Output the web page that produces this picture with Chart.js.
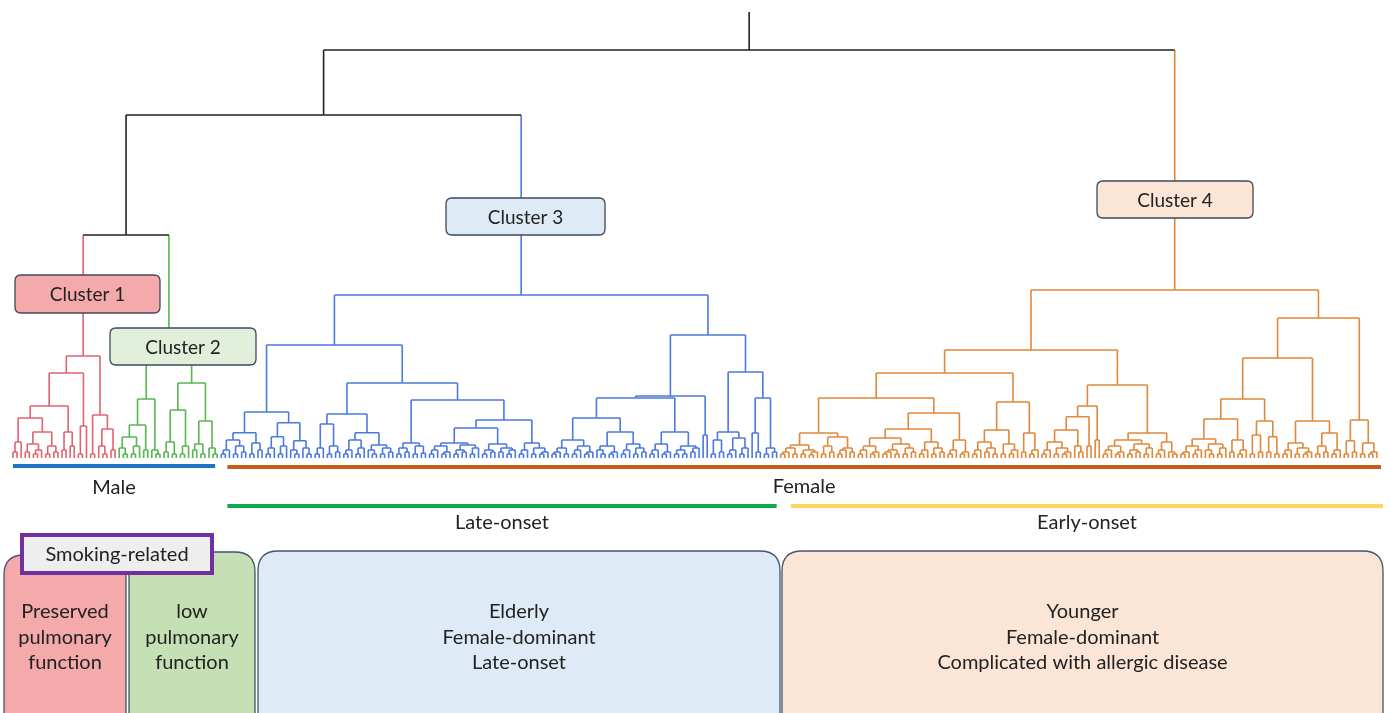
<!DOCTYPE html>
<html>
<head>
<meta charset="utf-8">
<script src="https://cdn.jsdelivr.net/npm/chart.js@4.4.1/dist/chart.umd.min.js"></script>
<style>
  html, body { margin: 0; padding: 0; background: #fff; }
  #wrap { width: 1390px; height: 713px; }
</style>
</head>
<body>
<div id="wrap"><canvas id="dendrogram" width="1390" height="713"></canvas></div>
<script>
// Tree notation: o = one patient (leaf), (a,b)h = merge of a and b at linkage height h
const cluster1Tree = `(
  (
    (
      (((o,o)1.5,o)4, (((o,o)1.5,((o,o)1,o)2)3.5, ((o,o)1,(o,o)1.5)3)6.5)10,
      ((o,o)2,(o,o)3)6.5
    )13,
    ((o,o)1,o)8
  )21.25,
  ((o,o)1, ((o,(o,o)1)3,(o,o)2)7.25)10.75
)25.5`;

const cluster2Tree = `(
  (
    (((o,(o,o)1)2.5, ((o,o)1,o)3)5.25, (o,o)2)8.25,
    (o,(o,o)1)2
  )14.75,
  (
    (((o,o)1.5,(o,o)1)4, ((o,o)1,o)3)12,
    (((o,o)2,(o,o)1)3.5, (o,(o,o)1)2.5)9.25
  )18.75
)26.5`;

const cluster3Tree = `(
  (
    (
      ((((o,o)1,o)2,((o,o)1,(o,o)1.5)3)4.5, ((o,o)1,(o,o)2)3.75)6.3,
      ((((o,o)1,o)2.5,((o,o)1,o)3)5.3, ((o,(o,o)1)2,(o,(o,o)1)2.5)4.3)8.8
    )11.5,
    (
      (
        (((o,o)1,o)2.5,((o,o)1,(o,o)1.5)3)8.5,
        ((((o,o)1,o)2,((o,o)1,o)2.5)4.5, ((o,(o,o)1)2,((o,o)1,(o,o)1.5)2.5)3.25)6.3
      )11,
      (
        (((o,o)1,(o,o)1.5)2.5,((o,o)1,(o,o)1.2)3)3.75,
        (
          (
            ((((o,o)1,o)2,((o,o)1,o)1.5)3,(((o,o)1,(o,o)1.5)2,((o,o)1,o)2.5)3.25)3.75,
            (((o,o)1,(o,o)1.5)2,((o,o)1.5,((o,o)1,o)2)2.5)3.5
          )7.5,
          (((o,o)1,o)2,((o,o)1,((o,o)1,o)1.5)2.5)3.75
        )9.5
      )14.5
    )18.75
  )28.25,
  (
    (
      (
        (
          ((((o,o)1,o)1.5,(o,o)1)2.5,(((o,o)1,o)2,((o,o)1,o)1.5)3)4.5,
          (((o,(o,o)1)2,((o,o)1,o)1.5)3,(((o,o)1,o)2,((o,o)1,(o,o)1.5)2.5)3.5)6.5
        )10,
        ((((o,o)1,o)2,((o,o)1,o)1.5)3.5,(((o,o)1,(o,o)1)2,((o,o)1.5,o)2.5)3)6.5
      )15,
      (o,o)5.75
    )15.5,
    (
      (((o,o)1,(o,o)1.5)4.5, (((o,o)1,o)2,((o,o)1,o)2.5)5)6.5,
      ((o,(o,o)1.5)6.25, ((o,o)1,(o,o)1.5)2.5)15
    )21.5
  )30.75
)40.75`;

const cluster4Tree = `(
  (
    (
      (
        (((((o,o)1,o)1.5,(o,o)1)2.5, ((o,o)1,((o,o)0.8,o)1.5)2)3.25,
         (((o,o)1,(o,o)1.5)3, (((o,o)1,o)2,(o,o)1.5)2.5)5.25)6.25,
        (
          (((((o,o)1,o)2,((o,o)1,o)1.5)3, ((((o,o)1,o)1.5,(o,o)1)2,((o,o)1,(o,o)1.5)2.5)3.5)5,
           (((o,o)1,o)2,((o,o)1,(o,o)1.5)2.5)4)7.25,
          (((o,o)1,o)2,((o,o)1,o)1.5)4.5
        )11.25
      )15,
      (
        ((((o,o)1,o)2,((o,o)1.5,(o,o)1)2.5)4, ((o,o)1,((o,o)1,o)2)3.5)7,
        ((o,o)1.5,((o,o)1,o)2)6.25
      )14
    )21.25,
    (
      (
        (
          ((((o,o)1,o)2,((o,o)1,((o,o)1,o)1.5)2.5)4, (o,(o,o)1.5)3)7,
          (o,o)3
        )10.3,
        (o,o)4.5
      )13,
      (
        ((((o,o)1,o)2,((o,o)1,o)1.5)3, (((o,o)1,(o,o)1.5)2,((o,o)1,o)2.5)3.5)4.5,
        (((o,o)1,o)2,(o,(o,o)1)1.5)4
      )6.25
    )18.25
  )27,
  (
    (
      (
        (
          ((((o,o)1,o)1.5,((o,o)1,o)2)3, ((o,(o,o)1)2,((o,o)1,o)2.5)3.5)4.75,
          ((o,o)1.5,((o,o)1,o)2)4.5
        )9.75,
        (((o,o)1,(o,o)1.5)5.75, ((o,o)1.5,(o,o)1)5.3)9.25
      )14.75,
      ((((o,o)1,o)2,((o,o)1,((o,o)1,o)1.5)2.5)3.75, (((o,o)1,(o,o)1.5)3,((o,o)1,o)2)6.25)9.25
    )25,
    (((o,o)1,(o,o)1.5)4.3, ((o,o)1,((o,o)1,o)1.5)3.75)9.5
  )35
)42`;

const clusterTrees = [cluster1Tree, cluster2Tree, cluster3Tree, cluster4Tree];
const clusterNames = ['Cluster 1', 'Cluster 2', 'Cluster 3', 'Cluster 4'];
const clusterColors = ['#e0646f', '#56b64f', '#4b79e0', '#e08838'];

// heights of the merges above the clusters: (1,2), (1+2,3), (all)
const upperHeights = [55.75, 85.75, 102];
const rootStemTop = 111.5;

// leaf-index spans of the patient groups under the tree
const groupLabels = ['Male', 'Female', 'Late-onset', 'Early-onset'];
const groupFrom = [0, 52.5, 52.5, 190.5];
const groupTo = [49.5, 335, 187, 335.5];

const profileLines = [
  ['Preserved', 'pulmonary', 'function'],
  ['low', 'pulmonary', 'function'],
  ['Elderly', 'Female-dominant', 'Late-onset'],
  ['Younger', 'Female-dominant', 'Complicated with allergic disease']
];
const smokingLabel = 'Smoking-related';

// ---- build the tree
function parseTree(text) {
  const s = text.replace(/\s+/g, '');
  let pos = 0;
  function node() {
    if (s[pos] === 'o') { pos++; return { leaf: true, h: 0 }; }
    if (s[pos] !== '(') throw new Error('tree syntax at ' + pos);
    pos++;
    const a = node();
    if (s[pos] !== ',') throw new Error('tree syntax at ' + pos);
    pos++;
    const b = node();
    if (s[pos] !== ')') throw new Error('tree syntax at ' + pos);
    pos++;
    const m = /^[0-9.]+/.exec(s.slice(pos));
    pos += m[0].length;
    return { children: [a, b], h: parseFloat(m[0]) };
  }
  return node();
}

let leafCount = 0;
function layout(n, color) {
  n.color = color;
  if (n.leaf) { n.x = leafCount++; return; }
  n.children.forEach(c => layout(c, color));
  n.x = (n.children[0].x + n.children[1].x) / 2;
}

const roots = clusterTrees.map((t, i) => {
  const r = parseTree(t);
  layout(r, clusterColors[i]);
  return r;
});

const LINK_BLACK = '#222222';
function join(a, b, h) {
  return { children: [a, b], h: h, color: LINK_BLACK, x: (a.x + b.x) / 2 };
}
const top12 = join(roots[0], roots[1], upperHeights[0]);
const top123 = join(top12, roots[2], upperHeights[1]);
const treeRoot = join(top123, roots[3], upperHeights[2]);

const segsByColor = {};
function addSeg(color, x1, y1, x2, y2) {
  if (!segsByColor[color]) segsByColor[color] = [];
  segsByColor[color].push({ x: x1, y: y1 }, { x: x2, y: y2 }, { x: x2, y: null });
}
function collect(n) {
  if (n.leaf) return;
  const [a, b] = n.children;
  addSeg(a.color, a.x, a.h, a.x, n.h);
  addSeg(n.color, a.x, n.h, b.x, n.h);
  addSeg(b.color, b.x, n.h, b.x, b.h);
  collect(a);
  collect(b);
}
collect(treeRoot);
addSeg(LINK_BLACK, treeRoot.x, treeRoot.h, treeRoot.x, rootStemTop);

const datasets = Object.keys(segsByColor).map(color => ({
  data: segsByColor[color],
  showLine: true,
  spanGaps: false,
  borderColor: color,
  borderWidth: 1.6,
  pointRadius: 0,
  pointHoverRadius: 0,
  tension: 0
}));

// ---- annotation drawing
function roundRect(ctx, x, y, w, h, r) {
  ctx.beginPath();
  ctx.moveTo(x + r, y);
  ctx.lineTo(x + w - r, y);
  ctx.quadraticCurveTo(x + w, y, x + w, y + r);
  ctx.lineTo(x + w, y + h - r);
  ctx.quadraticCurveTo(x + w, y + h, x + w - r, y + h);
  ctx.lineTo(x + r, y + h);
  ctx.quadraticCurveTo(x, y + h, x, y + h - r);
  ctx.lineTo(x, y + r);
  ctx.quadraticCurveTo(x, y, x + r, y);
  ctx.closePath();
}

const FONT = 'Lato, "Open Sans", sans-serif';
const clusterBoxes = [
  { x: 15, y: 275, w: 145, h: 38, fill: '#f4a9ab' },
  { x: 110, y: 328, w: 146, h: 37, fill: '#e2efda' },
  { x: 446, y: 198, w: 159, h: 37, fill: '#deebf7' },
  { x: 1097, y: 181, w: 156, h: 37, fill: '#fbe5d6' }
];
const groupStyle = [
  { color: '#1c74c4', bar: 466, text: 488 },
  { color: '#c65b1c', bar: 467, text: 487 },
  { color: '#10a84e', bar: 506, text: 523 },
  { color: '#fdd660', bar: 506, text: 523 }
];
const profileBoxes = [
  { x: 4, y: 555, w: 122, fill: '#f4a9ab' },
  { x: 129, y: 552, w: 126, fill: '#c5e0b4' },
  { x: 258, y: 551, w: 522, fill: '#deebf7' },
  { x: 782, y: 551, w: 601, fill: '#fbe5d6' }
];

const annotations = {
  id: 'annotations',
  afterDraw(chart) {
    const ctx = chart.ctx;
    const xs = chart.scales.x;
    ctx.save();
    ctx.textAlign = 'center';
    ctx.textBaseline = 'middle';

    // cluster labels
    clusterBoxes.forEach((b, i) => {
      roundRect(ctx, b.x, b.y, b.w, b.h, 6);
      ctx.fillStyle = b.fill;
      ctx.fill();
      ctx.lineWidth = 1.3;
      ctx.strokeStyle = '#3e4a5c';
      ctx.stroke();
      ctx.fillStyle = '#222';
      ctx.font = '19px ' + FONT;
      ctx.fillText(clusterNames[i], b.x + b.w / 2, b.y + b.h / 2 + 1);
    });

    // group bars
    groupLabels.forEach((label, i) => {
      const x1 = xs.getPixelForValue(groupFrom[i]);
      const x2 = xs.getPixelForValue(groupTo[i]);
      const st = groupStyle[i];
      ctx.strokeStyle = st.color;
      ctx.lineWidth = 4;
      ctx.beginPath();
      ctx.moveTo(x1, st.bar);
      ctx.lineTo(x2, st.bar);
      ctx.stroke();
      ctx.fillStyle = '#222';
      ctx.font = '20px ' + FONT;
      ctx.fillText(label, (x1 + x2) / 2, st.text);
    });

    // profile boxes
    profileBoxes.forEach((b, i) => {
      roundRect(ctx, b.x, b.y, b.w, 220, 20);
      ctx.fillStyle = b.fill;
      ctx.fill();
      ctx.lineWidth = 1.3;
      ctx.strokeStyle = '#44546a';
      ctx.stroke();
      ctx.fillStyle = '#222';
      ctx.font = '20px ' + FONT;
      profileLines[i].forEach((line, k) => {
        ctx.fillText(line, b.x + b.w / 2, 612 + k * 25.5);
      });
    });

    // smoking-related tag
    ctx.fillStyle = '#eeeeee';
    ctx.fillRect(22, 535, 190, 38);
    ctx.lineWidth = 4;
    ctx.strokeStyle = '#7030a0';
    ctx.strokeRect(22, 535, 190, 38);
    ctx.fillStyle = '#222';
    ctx.font = '20px ' + FONT;
    ctx.fillText(smokingLabel, 117, 555);

    ctx.restore();
  }
};

// leaf i sits at 13 + 4.084*i px; height d sits at 458 - 4*d px
new Chart(document.getElementById('dendrogram'), {
  type: 'scatter',
  data: { datasets: datasets },
  options: {
    responsive: false,
    animation: false,
    devicePixelRatio: 1,
    layout: { padding: 0 },
    events: [],
    plugins: { legend: { display: false }, tooltip: { enabled: false } },
    scales: {
      x: { type: 'linear', min: -3.18, max: 337.2, display: false },
      y: { type: 'linear', min: -63.75, max: 114.5, display: false }
    }
  },
  plugins: [annotations]
});
</script>
</body>
</html>
